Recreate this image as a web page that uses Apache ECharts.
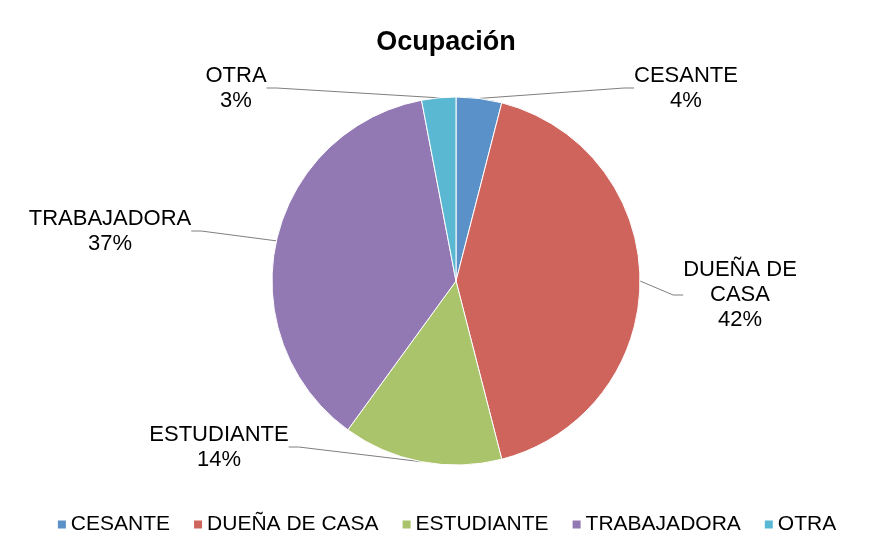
<!DOCTYPE html>
<html>
<head>
<meta charset="utf-8">
<script src="https://cdn.jsdelivr.net/npm/echarts@6/dist/echarts.min.js"></script>
<style>
  html, body { margin: 0; padding: 0; background: #fff; }
  #chart { width: 892px; height: 542px; }
</style>
</head>
<body>
<div id="chart"></div>
<script>
var categories = ['CESANTE', 'DUEÑA DE CASA', 'ESTUDIANTE', 'TRABAJADORA', 'OTRA'];
var labelNames = ['CESANTE', 'DUEÑA DE\nCASA', 'ESTUDIANTE', 'TRABAJADORA', 'OTRA'];
var values = [4, 42, 14, 37, 3];
var colors = ['#5b91c9', '#cf645d', '#a9c46b', '#9279b3', '#5ab8d3'];
// where the labels sit (text centre)
var labelPos = [[686, 88], [740, 295], [219, 447], [110, 231], [236, 88]];

(function(){
  var myChart = echarts.init(document.getElementById('chart'));
  var data = categories.map(function (c, i) {
    return { name: c, value: values[i], itemStyle: { color: colors[i] } };
  });
  var option = {
    backgroundColor: '#fff',
    title: {
      text: 'Ocupación',
      left: 'center',
      top: 24,
      textStyle: { fontFamily: 'Liberation Sans', fontSize: 27, fontWeight: 'bold', color: '#000' }
    },
    legend: {
      bottom: 2,
      left: 'center',
      itemWidth: 10,
      itemHeight: 10,
      itemGap: 22,
      icon: 'rect',
      textStyle: { fontFamily: 'Liberation Sans', fontSize: 21, color: '#000', padding: [0, 0, 0, -1] },
      data: categories
    },
    series: [
      {
        type: 'pie',
        center: [456, 281],
        radius: 184,
        startAngle: 90,
        clockwise: true,
        data: data,
        itemStyle: { borderColor: '#fff', borderWidth: 1 },
        label: {
          position: 'outside',
          fontFamily: 'Liberation Sans',
          fontSize: 22,
          lineHeight: 25,
          color: '#000',
          align: 'center',
          formatter: function (p) {
            return labelNames[p.dataIndex] + '\n' + p.value + '%';
          }
        },
        labelLine: {
          show: true,
          length: 20,
          length2: 10,
          lineStyle: { color: '#7f7f7f', width: 1 }
        },
        labelLayout: function (p) {
          var pos = labelPos[p.dataIndex];
          return { x: pos[0], y: pos[1], align: 'center', verticalAlign: 'middle' };
        },
        emphasis: { disabled: true },
        animation: false
      }
    ]
  };
  myChart.setOption(option);
  window.addEventListener('resize', function () {
    myChart.resize();
  });
})();
</script>
</body>
</html>
